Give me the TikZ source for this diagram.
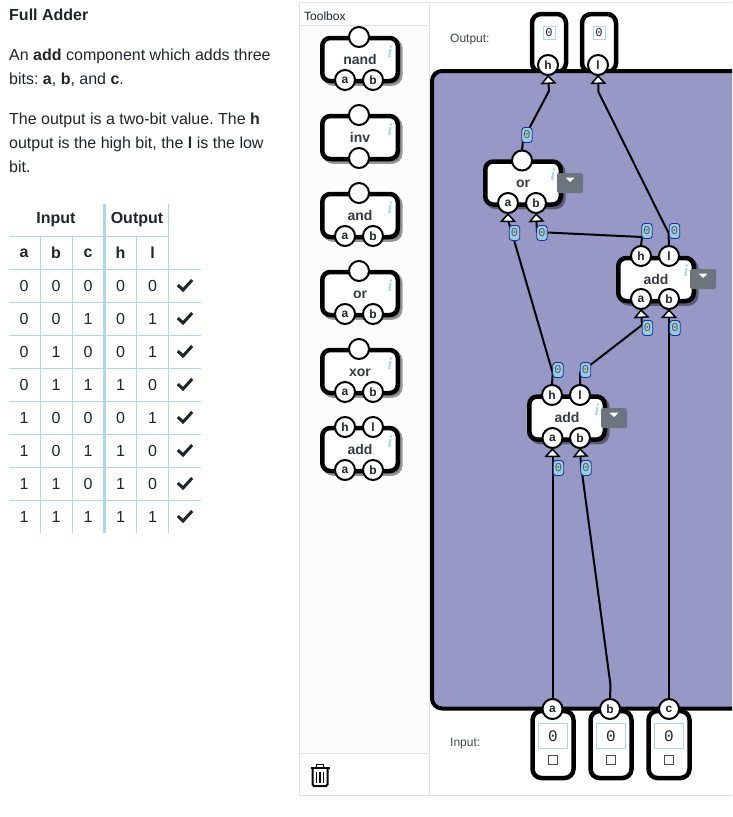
\documentclass[tikz,border=0pt]{standalone}
\usepackage{fontspec}
\setmainfont{Liberation Sans}
\setmonofont{Liberation Mono}
\newfontfamily\serifi{Liberation Serif}
\usepackage{xcolor}
\usetikzlibrary{positioning,arrows.meta,shadows}
\frenchspacing

\definecolor{inktext}{HTML}{212529}
\definecolor{gridblue}{HTML}{ADD8E6}
\definecolor{canvasfill}{HTML}{9898C6}
\definecolor{paneline}{HTML}{E2E2E2}
\definecolor{btngray}{HTML}{6C757D}
\definecolor{badgeedge}{HTML}{1A2FA0}
\definecolor{badgefill}{HTML}{98CFE0}

\tikzset{
	para/.style={anchor=base west, inner sep=0pt, text=inktext, font=\fontsize{16}{16}\selectfont},
	cell/.style={inner sep=0pt, text=inktext, font=\fontsize{16}{16}\selectfont},
	headcell/.style={cell, font=\fontsize{16}{16}\selectfont\bfseries},
	small/.style={anchor=base west, inner sep=0pt, text=inktext!85, font=\fontsize{12}{12}\selectfont},
	gatebox/.style={draw=black, fill=white, line width=4.5pt, rounded corners=8pt, minimum width=75.5pt, minimum height=43pt,
		inner sep=0pt, outer sep=0pt, text=inktext!90, text height=11pt, text depth=2pt,
		font=\fontsize{14}{14}\selectfont\bfseries,
		drop shadow={shadow xshift=2.5pt, shadow yshift=-2.5pt, draw=black, line width=4.5pt, opacity=.4}},
	port/.style={circle, draw=black, fill=white, line width=2pt, minimum size=20pt, inner sep=0pt, outer sep=0pt,
		text=inktext, font=\fontsize{12}{12}\selectfont\bfseries},
	info/.style={inner sep=0pt, text=gridblue, font=\fontsize{17}{17}\selectfont\serifi\bfseries\itshape},
	dropbtn/.style={fill=btngray, rounded corners=2pt, minimum width=26pt, minimum height=20pt, inner sep=0pt},
	wire/.style={draw=black, line width=2pt},
	feed/.style={wire, -{Triangle[open, fill=white, line width=1.5pt, length=9pt, width=16pt]}},
	badge/.style={draw=badgeedge, fill=badgefill, line width=.9pt, rounded corners=3pt, minimum width=10.5pt, minimum height=15pt,
		inner sep=0pt, text=black!65, font=\fontsize{12}{12}\selectfont\ttfamily},
	pin/.style={draw=black, fill=white, line width=4.5pt, rounded corners=9pt, inner sep=0pt, outer sep=0pt},
	valbox/.style={draw=gridblue, fill=white, line width=1pt, inner sep=0pt, text=inktext, font=\ttfamily},
	pane/.style={draw=paneline, line width=1pt},
}

\begin{document}
\begin{tikzpicture}[x=1pt, y=-1pt]
	\useasboundingbox (0,0) rectangle (732,817);

	% description
	\node[para, font=\fontsize{16}{16}\selectfont\bfseries] (title) at (9,20) {Full Adder};
	\node[para] (line1) at (9,60) {An \textbf{add} component which adds three};
	\node[para] (line2) at (9,84) {bits: \textbf{a}, \textbf{b}, and \textbf{c}.};
	\node[para] (line3) at (9,124) {The output is a two-bit value. The \textbf{h}};
	\node[para] (line4) at (9,148) {output is the high bit, the \textbf{l} is the low};
	\node[para] (line5) at (9,172) {bit.};

	% truth table
	\draw[gridblue, line width=1pt] (9,236.5) -- (169,236.5);
	\foreach \yy in {269.5,302.5,...,501} {
		\draw[gridblue, line width=1pt] (9,\yy) -- (201,\yy);
	}
	\foreach \xx in {40.5,72.5,136.5} {
		\draw[gridblue, line width=1pt] (\xx,236) -- (\xx,533);
	}
	\draw[gridblue, line width=1pt] (168.5,204) -- (168.5,533);
	\draw[gridblue, line width=3pt] (104.5,204) -- (104.5,533);

	\node[headcell] (inhead) at (56,220) {Input};
	\node[headcell] (outhead) at (137,220) {Output};
	\node[headcell] (heada) at (24,253) {a};
	\node[headcell] (headb) at (56,253) {b};
	\node[headcell] (headc) at (88,253) {c};
	\node[headcell] (headh) at (120.5,253) {h};
	\node[headcell] (headl) at (152.5,253) {l};
	\foreach \a/\b/\c/\h/\l/\yy in {0/0/0/0/0/286,0/0/1/0/1/319,0/1/0/0/1/352,0/1/1/1/0/385,1/0/0/0/1/418,1/0/1/1/0/451,1/1/0/1/0/484,1/1/1/1/1/517} {
		\node[cell] (a\yy) at (24,\yy) {\a};
		\node[cell] (b\yy) at (56,\yy) {\b};
		\node[cell] (c\yy) at (88,\yy) {\c};
		\node[cell] (h\yy) at (120.5,\yy) {\h};
		\node[cell] (l\yy) at (152.5,\yy) {\l};
		\draw[inktext, line width=3pt] (177.8,\yy-1) -- (183,\yy+4) -- (192.2,\yy-6);
	}

	% toolbox pane
	\fill[white!99!black] (299.5,2.5) rectangle (429.5,795.5);
	\draw[pane] (299.5,2.5) rectangle (429.5,795.5);
	\fill[white] (300,3) rectangle (429,25);
	\fill[white] (300,754) rectangle (429,795);
	\draw[pane] (299.5,25.5) -- (429.5,25.5);
	\draw[pane] (299.5,753.5) -- (429.5,753.5);
	\draw[pane] (429.5,2.5) -- (732,2.5);
	\draw[pane] (429.5,795.5) -- (732,795.5);
	\node[small, text=inktext] (toolbox) at (304,20) {Toolbox};

	\foreach \nm/\yy in {nand/59.5,and/215.5,or/293.5,xor/371.5} {
		\node[gatebox] (\nm) at (360,\yy) {\nm};
		\node[info] (\nm-i) at (390,\yy-8) {i};
		\node[port] (\nm-o) at (359,\yy-22.5) {};
		\node[port] (\nm-a) at (345,\yy+20.5) {a};
		\node[port] (\nm-b) at (373,\yy+20.5) {b};
	}
	\node[gatebox] (inv) at (360,137.5) {inv};
	\node[info] (inv-i) at (390,129.5) {i};
	\node[port] (inv-o) at (359,115) {};
	\node[port] (inv-a) at (359,158) {};
	\node[gatebox] (add) at (360,449.5) {add};
	\node[info] (add-i) at (390,441.5) {i};
	\node[port] (add-h) at (345,427) {h};
	\node[port] (add-l) at (373,427) {l};
	\node[port] (add-a) at (345,470) {a};
	\node[port] (add-b) at (373,470) {b};

	% trash can
	\draw[black, line width=1.3pt] (316.5,767) -- (316.5,764.5) -- (323.5,764.5) -- (323.5,767);
	\draw[black, line width=2pt] (310.5,768) -- (329.5,768);
	\draw[black, line width=2pt, rounded corners=1.5pt] (312.5,768) -- (312.5,786) -- (327.5,786) -- (327.5,768);
	\foreach \xx in {316.5,320,323.5} {
		\draw[black, line width=1.5pt] (\xx,771.5) -- (\xx,783);
	}

	% output and input pins, under the canvas edge
	\node[small] (outlabel) at (450,42) {Output:};
	\node[small] (inlabel) at (450,746) {Input:};
	\node[pin, minimum width=34pt, minimum height=58pt] (outh) at (549,43) {};
	\node[pin, minimum width=34pt, minimum height=58pt] (outl) at (599,43) {};
	\foreach \nm/\xx in {a/553,b/611,c/669} {
		\node[pin, minimum width=41pt, minimum height=67pt] (in\nm) at (\xx,744.5) {};
	}

	% canvas
	\draw[draw=black, fill=canvasfill, line width=4pt, rounded corners=10pt] (732,71) -- (432,71) -- (432,708.5) -- (732,708.5);

	% pin contents
	\node[valbox, minimum width=12pt, minimum height=13pt, font=\fontsize{12}{12}\selectfont\ttfamily] (valh) at (549,33) {0};
	\node[valbox, minimum width=12pt, minimum height=13pt, font=\fontsize{12}{12}\selectfont\ttfamily] (vall) at (599,33) {0};
	\foreach \nm/\xx in {a/553,b/611,c/669} {
		\node[valbox, minimum width=29pt, minimum height=25pt, font=\fontsize{16}{16}\selectfont\ttfamily] (val\nm) at (\xx,736) {0};
		\node[draw=black!70, line width=.8pt, minimum size=9pt, inner sep=0pt] (chk\nm) at (\xx,760) {};
	}
	\node[port] (porth) at (548,65) {h};
	\node[port] (portl) at (598,65) {l};
	\node[port] (porta) at (552.5,709) {a};
	\node[port] (portb) at (610,709) {b};
	\node[port] (portc) at (669,709) {c};

	% gates on the canvas
	\node[gatebox] (orgate) at (523,183) {or};
	\node[info] (orgate-i) at (553,175) {i};
	\node[port] (or-o) at (522,160.5) {};
	\node[port] (or-a) at (508,203) {a};
	\node[port] (or-b) at (536,203) {b};

	\node[gatebox] (addtop) at (656,279.5) {add};
	\node[info] (addtop-i) at (686,271) {i};
	\node[port] (addtop-h) at (641,256) {h};
	\node[port] (addtop-l) at (669,256) {l};
	\node[port] (addtop-a) at (641,299) {a};
	\node[port] (addtop-b) at (669,299) {b};

	\node[gatebox] (addlow) at (567,418) {add};
	\node[info] (addlow-i) at (597,409.5) {i};
	\node[port] (addlow-h) at (552,395) {h};
	\node[port] (addlow-l) at (580,395) {l};
	\node[port] (addlow-a) at (552.5,438) {a};
	\node[port] (addlow-b) at (580,438) {b};

	% dropdown buttons
	\foreach \nm/\xx/\yy in {orbtn/570/183,topbtn/703/279,lowbtn/614/418} {
		\node[dropbtn] (\nm) at (\xx,\yy) {};
		\fill[white] (\xx-4.5,\yy-5.5) -- (\xx+4.5,\yy-5.5) -- (\xx,\yy-1) -- cycle;
	}

	% wires
	\draw[feed] (or-o.north) -- (523,140) -- (549,91) -- (porth.south);
	\draw[feed] (addtop-l.north) -- (668.5,233) -- (598.5,92) -- (portl.south);
	\draw[feed] (addlow-h.north) -- (552.7,373) -- (514,240) -- (508,220) -- (or-a.south);
	\draw[feed] (addtop-h.north) -- (642,237) -- (537,232) -- (or-b.south);
	\draw[feed] (addlow-l.north) -- (580,373) -- (642,325) -- (addtop-a.south);
	\draw[feed] (portc.north) -- (addtop-b.south);
	\draw[feed] (porta.north) -- (addlow-a.south);
	\draw[feed] (portb.north) -- (610.5,685) -- (581,465) -- (addlow-b.south);

	% wire values
	\node[badge] (val1) at (527,135) {0};
	\node[badge] (val2) at (514.5,233) {0};
	\node[badge] (val3) at (542,233) {0};
	\node[badge] (val4) at (647,231) {0};
	\node[badge] (val5) at (674.5,231) {0};
	\node[badge] (val6) at (647.5,328) {0};
	\node[badge] (val7) at (675,328) {0};
	\node[badge] (val8) at (558,370) {0};
	\node[badge] (val9) at (585.5,370) {0};
	\node[badge] (val10) at (558.5,468) {0};
	\node[badge] (val11) at (586,468) {0};
\end{tikzpicture}
\end{document}
